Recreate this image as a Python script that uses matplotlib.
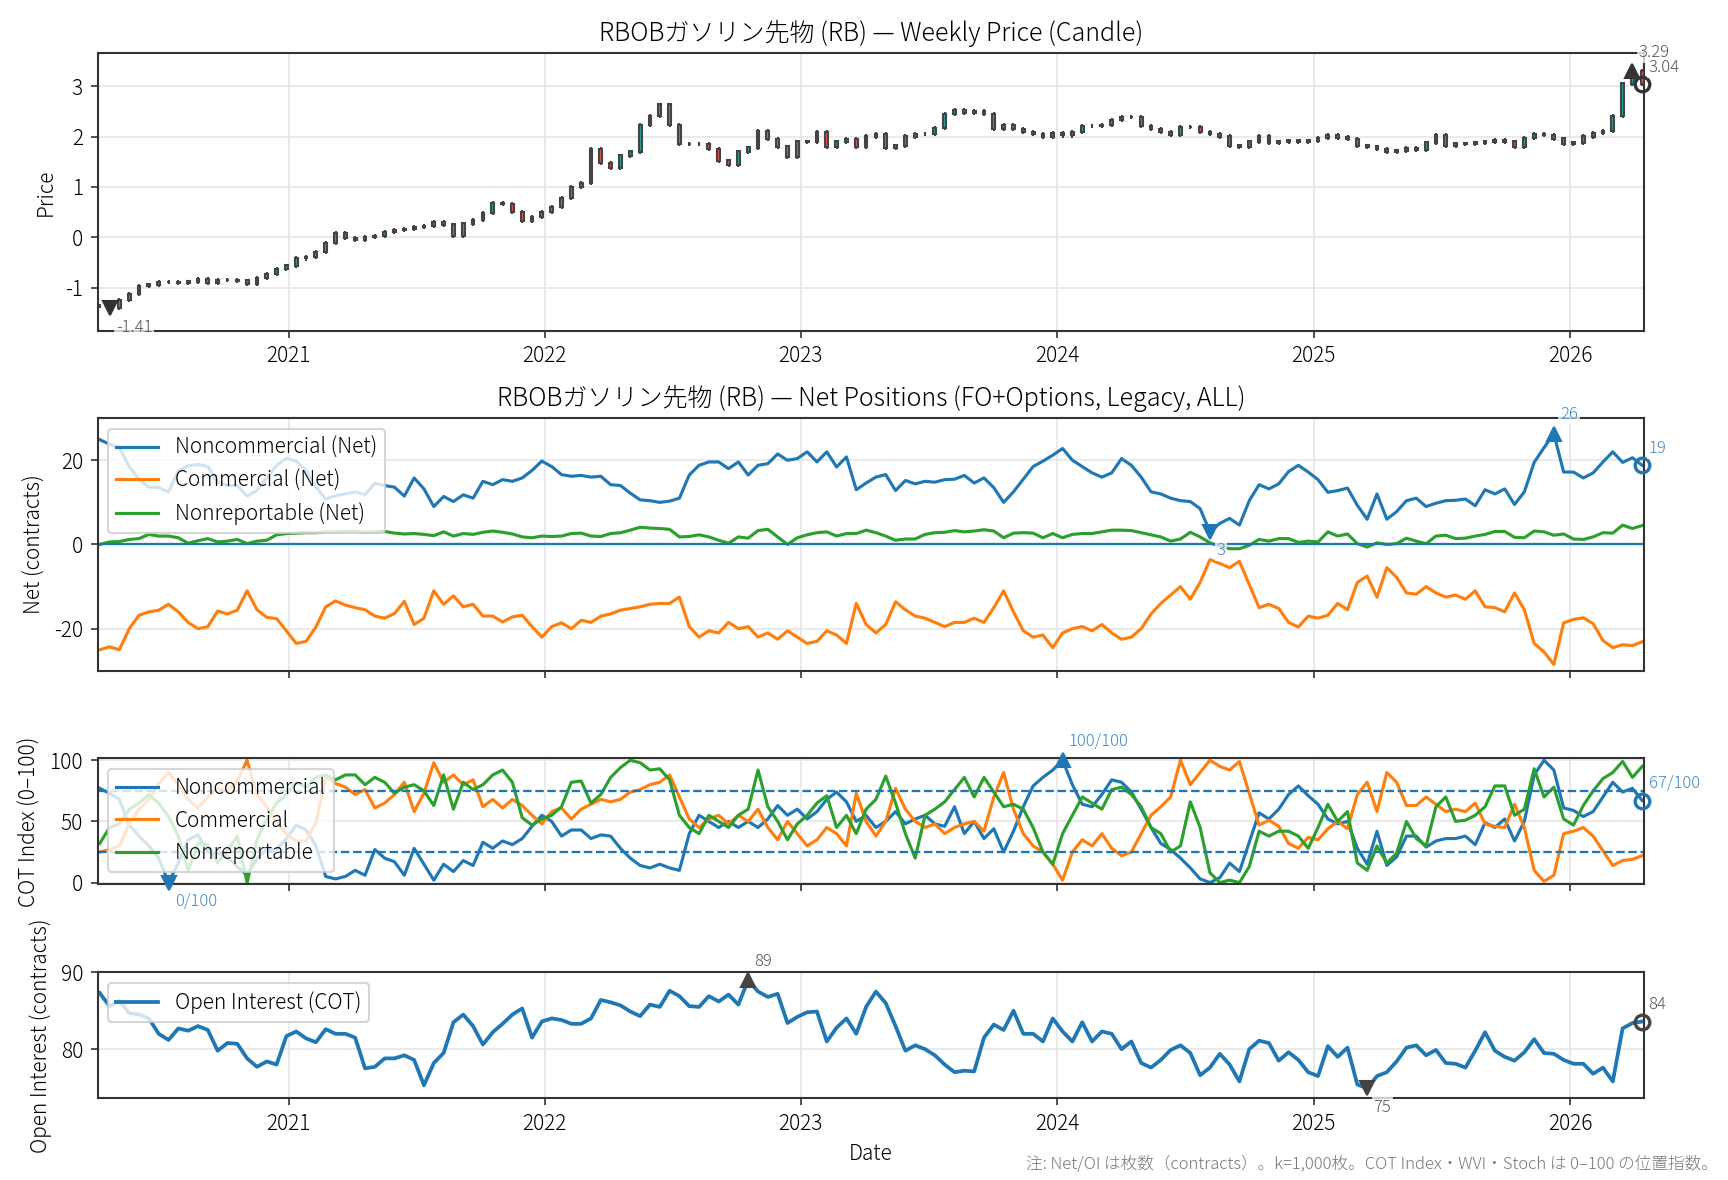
import matplotlib
matplotlib.use('Agg')
import matplotlib.pyplot as plt
import matplotlib.dates as mdates
from matplotlib.ticker import MultipleLocator
import numpy as np
import pandas as pd

plt.rcParams['font.family'] = ['Noto Sans CJK JP', 'DejaVu Sans']
plt.rcParams['font.weight'] = 'light'
plt.rcParams['axes.titleweight'] = 'light'
plt.rcParams['axes.labelweight'] = 'light'
plt.rcParams['axes.unicode_minus'] = False

# biweekly COT report dates
dates = pd.date_range('2020-04-07', periods=158, freq='14D')

close = [-1.37, -1.41, -1.25, -1.12, -0.97, -0.94, -0.89, -0.89, -0.90, -0.88,
         -0.83, -0.90, -0.85, -0.85, -0.86, -0.93, -0.81, -0.73, -0.63, -0.56,
         -0.42, -0.39, -0.30, -0.12, 0.08, -0.02, -0.05, 0.00, 0.03, 0.10,
         0.14, 0.16, 0.20, 0.22, 0.30, 0.25, 0.03, 0.27, 0.34, 0.48,
         0.68, 0.66, 0.50, 0.33, 0.40, 0.50, 0.60, 0.78, 1.00, 1.08,
         1.75, 1.47, 1.38, 1.62, 1.70, 2.23, 2.40, 2.63, 2.22, 1.85,
         1.85, 1.85, 1.75, 1.52, 1.43, 1.70, 1.78, 2.10, 1.95, 1.80,
         1.60, 1.90, 1.90, 2.08, 1.80, 1.90, 1.95, 1.80, 2.00, 2.05,
         1.78, 1.82, 2.00, 2.05, 2.05, 2.17, 2.45, 2.52, 2.47, 2.50,
         2.45, 2.15, 2.22, 2.15, 2.08, 2.05, 2.00, 2.06, 2.02, 2.08,
         2.20, 2.20, 2.22, 2.33, 2.38, 2.38, 2.20, 2.15, 2.08, 2.03,
         2.18, 2.18, 2.08, 2.05, 2.00, 1.82, 1.80, 1.90, 2.00, 1.87,
         1.90, 1.92, 1.90, 1.92, 1.97, 2.02, 1.98, 1.95, 1.82, 1.80,
         1.75, 1.70, 1.72, 1.77, 1.74, 1.88, 2.03, 1.82, 1.86, 1.86,
         1.88, 1.90, 1.93, 1.90, 1.80, 1.97, 2.05, 2.03, 1.96, 1.85,
         1.88, 2.00, 2.07, 2.10, 2.40, 3.05, 3.29, 3.04]

net_noncomm = [24.9, 23.8, 23.0, 18.5, 15.5, 13.6, 13.5, 12.5, 17.5, 18.7,
               19.0, 18.5, 14.8, 14.0, 14.0, 11.5, 12.8, 15.8, 18.8, 20.5,
               19.8, 17.5, 13.6, 10.8, 11.6, 12.0, 12.5, 11.8, 14.5, 14.0,
               13.6, 11.5, 15.8, 13.2, 9.0, 11.4, 10.2, 11.8, 11.0, 15.0,
               14.2, 15.4, 15.0, 15.8, 17.6, 19.8, 18.5, 16.6, 16.2, 16.4,
               16.0, 16.2, 14.2, 14.0, 12.2, 10.6, 10.4, 10.0, 10.3, 11.0,
               16.5, 18.8, 19.6, 19.6, 18.0, 19.6, 16.5, 18.8, 19.2, 21.5,
               20.0, 20.4, 22.0, 19.6, 22.0, 18.4, 20.8, 13.0, 14.6, 16.0,
               16.6, 12.8, 15.2, 14.4, 15.0, 14.8, 15.4, 15.5, 16.4, 14.6,
               15.8, 13.5, 10.0, 12.5, 15.5, 18.5, 19.8, 21.2, 22.8, 20.0,
               18.5, 17.0, 16.0, 17.0, 20.4, 18.8, 16.0, 12.5, 12.0, 11.0,
               10.4, 10.2, 8.5, 3.0, 5.0, 6.2, 4.6, 10.4, 14.2, 13.2,
               14.4, 17.3, 18.8, 17.2, 15.4, 12.4, 12.8, 13.4, 9.3, 6.0,
               12.0, 6.0, 7.8, 10.4, 11.0, 9.0, 9.8, 10.4, 10.5, 10.8,
               9.2, 13.0, 12.0, 13.2, 9.5, 12.5, 19.5, 23.0, 26.3, 17.2,
               17.2, 15.8, 17.0, 19.6, 22.0, 19.5, 20.6, 18.8]

net_comm = [-25.0, -24.3, -25.0, -20.0, -16.8, -16.0, -15.6, -14.2, -16.0, -18.5,
            -20.0, -19.5, -15.8, -16.5, -15.6, -11.0, -15.5, -17.3, -17.6, -20.5,
            -23.5, -23.0, -19.6, -14.8, -13.4, -14.4, -15.0, -15.5, -17.0, -17.5,
            -16.4, -13.5, -19.0, -17.5, -11.0, -14.2, -12.2, -14.8, -14.2, -17.0,
            -17.0, -18.4, -17.2, -16.8, -19.5, -22.0, -19.5, -18.6, -20.0, -18.0,
            -18.5, -17.0, -16.5, -15.6, -15.2, -14.8, -14.2, -14.0, -14.0, -12.5,
            -19.5, -22.0, -20.5, -21.0, -18.5, -20.0, -19.5, -22.0, -21.0, -22.5,
            -20.5, -22.0, -23.5, -23.0, -20.5, -21.5, -23.5, -14.0, -19.0, -21.0,
            -19.0, -13.6, -15.5, -17.0, -17.5, -18.5, -19.5, -18.5, -18.5, -17.5,
            -18.5, -15.0, -11.0, -16.0, -20.5, -22.0, -21.5, -24.5, -21.0, -20.0,
            -19.5, -20.5, -19.0, -21.0, -22.5, -22.0, -20.0, -16.5, -14.0, -12.0,
            -10.0, -13.0, -9.0, -3.6, -4.5, -5.5, -4.0, -9.5, -15.0, -14.2,
            -15.2, -18.5, -19.6, -17.0, -17.5, -16.8, -14.0, -15.5, -9.0, -7.5,
            -12.5, -5.5, -7.8, -11.5, -11.8, -10.0, -11.5, -12.5, -12.0, -13.0,
            -11.0, -14.8, -15.0, -16.0, -11.5, -15.5, -23.5, -25.5, -28.5, -18.6,
            -17.8, -17.4, -18.8, -22.8, -24.5, -23.8, -24.0, -23.1]

net_nonrep = [0.0, 0.6, 0.7, 1.2, 1.4, 2.4, 2.0, 2.0, 1.6, 0.3,
              0.9, 1.4, 0.6, 0.8, 1.2, 0.2, 0.8, 1.0, 2.3, 2.6,
              2.7, 2.8, 2.8, 3.0, 3.0, 3.1, 3.1, 2.9, 3.0, 3.1,
              2.7, 2.5, 2.6, 2.4, 2.1, 3.0, 2.0, 2.6, 2.4, 2.9,
              3.2, 2.9, 2.5, 1.8, 1.6, 2.0, 1.9, 2.0, 2.6, 2.7,
              2.0, 1.9, 2.6, 2.8, 3.4, 4.1, 3.9, 3.8, 3.6, 1.8,
              1.9, 2.3, 1.8, 1.0, 0.3, 1.8, 1.5, 3.3, 3.6, 1.8,
              0.0, 1.6, 2.3, 2.8, 3.0, 2.0, 2.6, 2.6, 3.4, 2.8,
              2.0, 1.0, 1.3, 1.3, 2.4, 2.8, 2.9, 3.3, 3.0, 3.2,
              3.5, 3.2, 1.6, 2.7, 2.8, 2.7, 1.6, 2.6, 1.6, 2.4,
              2.6, 2.6, 3.0, 3.4, 3.4, 3.3, 2.8, 2.3, 1.8, 0.8,
              1.3, 2.9, 1.8, 0.4, -0.4, -1.0, -1.0, -0.2, 1.2, 0.8,
              1.4, 1.4, 0.5, 0.8, 0.6, 3.0, 2.0, 2.5, 0.2, -0.6,
              0.4, 0.0, 0.2, 1.5, 0.8, 0.2, 2.0, 2.2, 1.4, 1.5,
              2.0, 2.4, 3.1, 3.1, 1.7, 1.6, 3.2, 3.0, 2.2, 2.5,
              1.3, 1.2, 1.8, 2.8, 2.7, 4.6, 3.8, 4.5]

cot_noncomm = [77, 73, 68, 47, 38, 30, 20, 0, 16, 35,
               39, 25, 24, 21, 13, 6, 20, 27, 27, 36,
               47, 43, 30, 5, 3, 5, 10, 6, 27, 20,
               17, 6, 28, 15, 2, 15, 9, 18, 14, 33,
               28, 34, 31, 36, 46, 55, 50, 38, 43, 43,
               36, 39, 38, 28, 20, 14, 12, 15, 12, 10,
               40, 55, 50, 45, 50, 45, 50, 45, 52, 63,
               55, 60, 52, 58, 68, 74, 66, 50, 55, 45,
               50, 58, 48, 52, 55, 48, 46, 62, 40, 50,
               36, 44, 25, 42, 62, 79, 86, 92, 100, 80,
               64, 62, 72, 84, 82, 74, 60, 45, 32, 27,
               20, 12, 3, 0, 4, 16, 9, 33, 57, 52,
               60, 72, 79, 71, 64, 52, 48, 50, 28, 15,
               42, 14, 21, 38, 38, 29, 34, 36, 36, 38,
               31, 49, 45, 52, 34, 50, 88, 100, 92, 61,
               59, 54, 58, 70, 82, 74, 77, 67]

cot_comm = [25, 27, 30, 48, 60, 68, 81, 90, 80, 68,
            61, 70, 77, 75, 83, 100, 72, 62, 49, 40,
            34, 34, 49, 86, 81, 78, 72, 76, 61, 65,
            72, 82, 58, 73, 98, 82, 88, 80, 84, 62,
            68, 61, 68, 63, 55, 48, 58, 61, 52, 60,
            64, 68, 66, 68, 74, 76, 80, 82, 88, 70,
            52, 45, 52, 55, 48, 55, 50, 60, 45, 35,
            50, 40, 30, 35, 45, 40, 30, 73, 50, 38,
            50, 77, 60, 50, 45, 48, 40, 45, 48, 50,
            42, 70, 90, 60, 40, 30, 25, 15, 2, 25,
            35, 30, 40, 28, 22, 25, 40, 55, 62, 70,
            100, 80, 90, 100, 95, 92, 99, 73, 47, 51,
            46, 32, 28, 37, 35, 44, 50, 44, 72, 82,
            58, 90, 82, 63, 63, 70, 64, 58, 60, 58,
            65, 48, 46, 45, 64, 45, 10, 1, 6, 40,
            42, 45, 38, 26, 14, 18, 19, 22]

cot_nonrep = [32, 45, 48, 60, 65, 72, 65, 54, 38, 10,
              32, 31, 16, 26, 38, 0, 35, 52, 65, 72,
              82, 78, 86, 88, 84, 88, 88, 80, 86, 82,
              73, 78, 80, 75, 63, 88, 60, 82, 76, 80,
              88, 92, 82, 53, 47, 52, 55, 62, 82, 83,
              65, 72, 86, 94, 100, 98, 92, 93, 84, 55,
              45, 40, 55, 50, 45, 55, 60, 92, 62, 50,
              35, 48, 55, 65, 71, 45, 55, 40, 60, 68,
              87, 65, 40, 20, 55, 60, 66, 76, 86, 70,
              86, 74, 62, 64, 60, 45, 25, 15, 40, 55,
              70, 65, 60, 76, 78, 72, 62, 45, 40, 25,
              30, 66, 45, 8, 0, 2, 0, 13, 42, 38,
              42, 42, 38, 28, 45, 64, 50, 58, 16, 10,
              30, 16, 24, 50, 36, 30, 62, 70, 50, 51,
              55, 62, 79, 79, 55, 60, 93, 70, 78, 52,
              47, 63, 75, 85, 90, 99, 86, 95]

open_interest = [87.3, 85.6, 86.3, 84.7, 84.5, 84.0, 82.0, 81.2, 82.7, 82.4,
                 83.0, 82.5, 79.8, 80.8, 80.7, 78.8, 77.7, 78.4, 78.0, 81.7,
                 82.3, 81.4, 80.9, 82.6, 82.0, 82.0, 81.5, 77.5, 77.7, 78.8,
                 78.8, 79.2, 78.6, 75.3, 78.2, 79.5, 83.5, 84.5, 83.0, 80.6,
                 82.2, 83.3, 84.5, 85.3, 81.5, 83.6, 84.0, 83.8, 83.3, 83.3,
                 84.0, 86.4, 86.1, 85.7, 84.9, 84.3, 85.8, 85.5, 87.6, 86.9,
                 85.6, 85.5, 86.9, 86.2, 87.1, 85.8, 89.0, 87.5, 86.8, 87.2,
                 83.4, 84.2, 84.8, 84.9, 81.0, 82.8, 84.0, 82.0, 85.5, 87.5,
                 86.0, 83.0, 79.8, 80.5, 80.0, 79.2, 78.0, 77.0, 77.2, 77.1,
                 81.5, 83.2, 82.5, 85.0, 82.0, 82.0, 81.0, 84.0, 82.3, 81.0,
                 83.5, 81.0, 82.3, 82.0, 80.0, 81.0, 78.2, 77.6, 78.6, 79.9,
                 80.5, 79.5, 76.6, 77.6, 79.4, 78.0, 75.8, 80.0, 81.1, 80.8,
                 78.5, 79.6, 78.6, 77.0, 76.5, 80.4, 79.0, 80.2, 75.4, 74.9,
                 76.5, 77.0, 78.4, 80.2, 80.5, 79.2, 79.9, 78.2, 78.1, 77.6,
                 79.8, 82.2, 79.8, 79.0, 78.5, 79.6, 81.3, 79.5, 79.4, 78.6,
                 78.1, 78.1, 76.8, 77.6, 75.8, 82.7, 83.4, 83.6]

title_name = 'RBOBガソリン先物 (RB)'
note_text = '注: Net/OI は枚数（contracts）。k=1,000枚。COT Index・WVI・Stoch は 0–100 の位置指数。'

close = np.array(close)
opens = np.r_[close[0], close[:-1]]
wick = 0.04
high = np.maximum(opens, close) + wick
low = np.minimum(opens, close) - wick

C_BLUE, C_ORANGE, C_GREEN = '#1f77b4', '#ff7f0e', '#2ca02c'
DARK = '#444444'


def mark(ax, i, y, text, dy, tcolor, mcolor, marker):
    if marker == 'o':
        ax.plot(dates[i], y, marker='o', ms=7, mfc='none', mec=mcolor, mew=1.6,
                zorder=6, clip_on=False)
    else:
        ax.plot(dates[i], y, marker=marker, ms=7, color=mcolor, zorder=6, clip_on=False)
    ax.annotate(text, (dates[i], y), xytext=(3, dy), textcoords='offset points',
                ha='left', va='center', fontsize=8, color=tcolor, zorder=7,
                annotation_clip=False,
                bbox=dict(boxstyle='square,pad=0.1', fc='white', ec='none', alpha=0.75))


def annotate_series(ax, vals, fmt, tcolor, mcolor):
    vals = np.asarray(vals)
    imax, imin, ilast = int(np.argmax(vals)), int(np.argmin(vals)), len(vals) - 1
    mark(ax, imax, vals[imax], fmt(vals[imax]), 9, tcolor, mcolor, '^')
    mark(ax, imin, vals[imin], fmt(vals[imin]), -9, tcolor, mcolor, 'v')
    mark(ax, ilast, vals[ilast], fmt(vals[ilast]), 8, tcolor, mcolor, 'o')


fig = plt.figure(figsize=(11.52, 7.8667), dpi=150)
gs = fig.add_gridspec(4, 1, height_ratios=[2.2, 2, 1, 1], hspace=0.45,
                      left=0.0565, right=0.9516, top=0.9548, bottom=0.0692)
ax1 = fig.add_subplot(gs[0])
ax2 = fig.add_subplot(gs[1], sharex=ax1)
ax3 = fig.add_subplot(gs[2], sharex=ax1)
ax4 = fig.add_subplot(gs[3], sharex=ax1)

for ax in (ax1, ax2, ax3, ax4):
    ax.grid(True, color='#e6e6e6', lw=0.8)
    ax.set_axisbelow(True)
    for s in ax.spines.values():
        s.set_color('#333333')
        s.set_linewidth(1.0)
    ax.tick_params(labelsize=10, color='#333333')

# --- candles
up = close >= opens
ax1.vlines(dates, low, high, color=DARK, lw=1.0, zorder=2)
ax1.bar(dates, np.abs(close - opens) + 0.005, bottom=np.minimum(opens, close), width=4,
        color=np.where(up, '#26a69a', '#ef5350'), edgecolor=DARK, linewidth=1.0, zorder=3)
ax1.set_ylim(-1.85, 3.65)
ax1.set_ylabel('Price', fontsize=10)
ax1.set_title(f'{title_name} — Weekly Price (Candle)', fontsize=12)
annotate_series(ax1, close, lambda v: f'{v:.2f}', '#555555', '#333333')

# --- net positions
ax2.plot(dates, net_noncomm, color=C_BLUE, lw=1.5, label='Noncommercial (Net)')
ax2.plot(dates, net_comm, color=C_ORANGE, lw=1.5, label='Commercial (Net)')
ax2.plot(dates, net_nonrep, color=C_GREEN, lw=1.5, label='Nonreportable (Net)')
ax2.axhline(0, color=C_BLUE, lw=1.1)
lim = 1.05 * np.max(np.abs(np.r_[net_noncomm, net_comm, net_nonrep]))
ax2.set_ylim(-lim, lim)
ax2.yaxis.set_major_locator(MultipleLocator(20))
ax2.set_ylabel('Net (contracts)', fontsize=10)
ax2.set_title(f'{title_name} — Net Positions (FO+Options, Legacy, ALL)', fontsize=12)
ax2.legend(loc='upper left', fontsize=10)
annotate_series(ax2, net_noncomm, lambda v: f'{v:.0f}', '#3f8ac4', C_BLUE)

# --- COT index
ax3.plot(dates, cot_noncomm, color=C_BLUE, lw=1.5, label='Noncommercial')
ax3.plot(dates, cot_comm, color=C_ORANGE, lw=1.5, label='Commercial')
ax3.plot(dates, cot_nonrep, color=C_GREEN, lw=1.5, label='Nonreportable')
ax3.axhline(75, color=C_BLUE, ls='--', lw=1.1)
ax3.axhline(25, color=C_BLUE, ls='--', lw=1.1)
ax3.set_ylim(-1.5, 101.5)
ax3.set_ylabel('COT Index (0–100)', fontsize=10)
ax3.legend(loc='upper left', fontsize=10)
annotate_series(ax3, cot_noncomm, lambda v: f'{v:.0f}/100', '#3f8ac4', C_BLUE)

# --- open interest
ax4.plot(dates, open_interest, color=C_BLUE, lw=1.8, label='Open Interest (COT)')
ax4.set_ylim(73.6, 90.0)
ax4.set_ylabel('Open Interest (contracts)', fontsize=10)
ax4.set_xlabel('Date', fontsize=10)
ax4.legend(loc='upper left', fontsize=10)
annotate_series(ax4, open_interest, lambda v: f'{v:.0f}', '#555555', '#444444')

ax1.set_xlim(dates[0] - pd.Timedelta(days=3), dates[-1] + pd.Timedelta(days=3))
ax1.xaxis.set_major_locator(mdates.YearLocator())
ax1.xaxis.set_major_formatter(mdates.DateFormatter('%Y'))
for ax in (ax2, ax3):
    ax.tick_params(labelbottom=False)
ax1.tick_params(labelbottom=True)
ax4.tick_params(labelbottom=True)

fig.text(0.994, 0.006, note_text, ha='right', va='bottom', fontsize=8, color='#777777')

fig.savefig('out.png', dpi=150)
